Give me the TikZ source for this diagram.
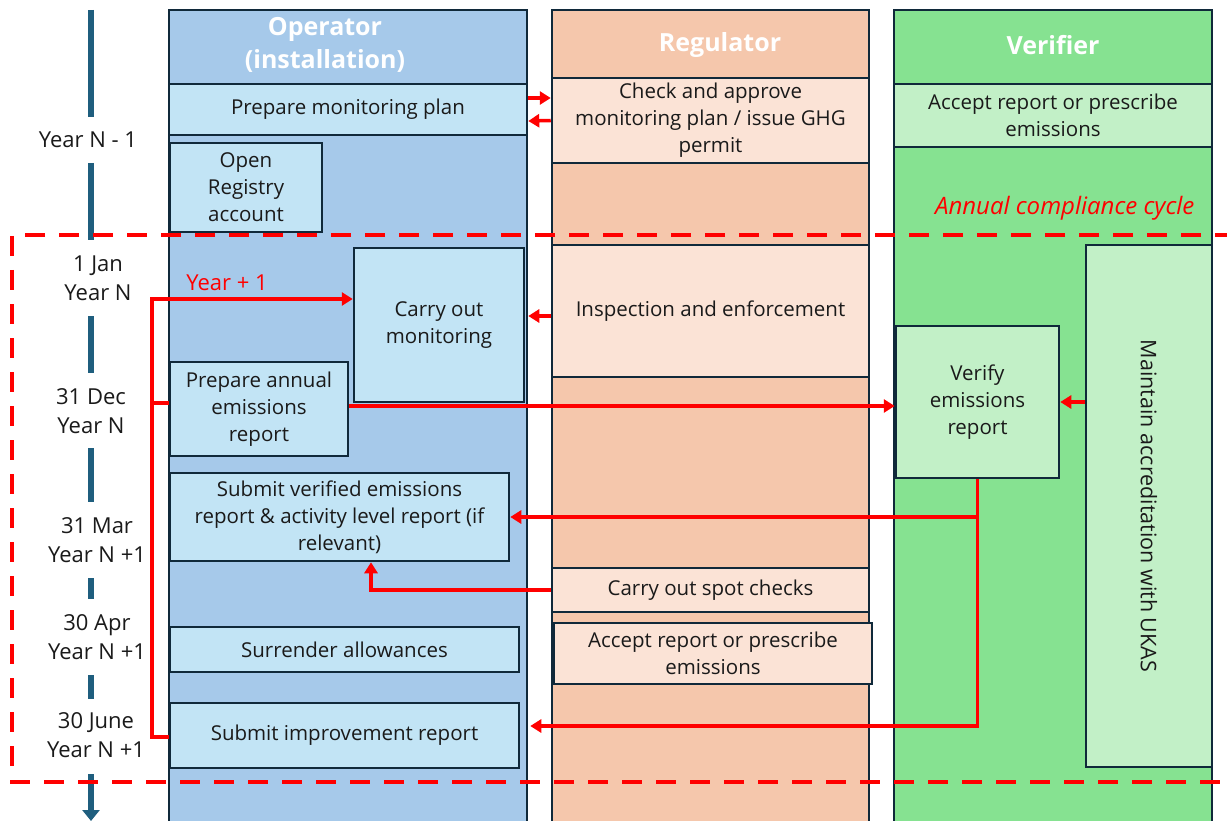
\documentclass[tikz,border=0pt]{standalone}
\usepackage{fontspec}
\setmainfont{Open Sans}
\usetikzlibrary{arrows.meta}
\definecolor{opcolc}{HTML}{A6C9EA}
\definecolor{opboxc}{HTML}{C2E4F5}
\definecolor{regcolc}{HTML}{F5C7AC}
\definecolor{regboxc}{HTML}{FBE3D6}
\definecolor{vercolc}{HTML}{86E291}
\definecolor{verboxc}{HTML}{C2F0C7}
\definecolor{bord}{HTML}{10293A}
\definecolor{tlc}{HTML}{1F5E7E}
\definecolor{redc}{HTML}{FF0000}
\definecolor{txt}{HTML}{1A1A1A}
\begin{document}
\begin{tikzpicture}[x=1pt,y=-1pt,
  lane/.style={draw=bord,line width=2.5pt,inner sep=0pt},
  bx/.style={draw=bord,line width=2.5pt,inner sep=0pt,align=center,text=txt,font=\fontsize{20.5}{27}\selectfont},
  obox/.style={bx,fill=opboxc},
  rbox/.style={bx,fill=regboxc},
  vbox/.style={bx,fill=verboxc},
  head/.style={text=white,align=center,font=\fontsize{25}{33}\selectfont\bfseries},
  datel/.style={align=center,text=txt,font=\fontsize{22}{29}\selectfont},
  tline/.style={draw=tlc,line width=6pt},
  rarr/.style={draw=redc,line width=3.5pt,-{Triangle[length=11pt,width=13pt]}},
  rline/.style={draw=redc,line width=3.5pt},
  dashbox/.style={draw=redc,line width=4pt,dash pattern=on 20pt off 14pt}
]
\useasboundingbox (0,0) rectangle (1227,821);
\fill[white] (0,0) rectangle (1227,821);

% lanes
\node[lane,fill=opcolc,minimum width=358pt,minimum height=830pt] (opl) at (348,425) {};
\node[lane,fill=regcolc,minimum width=317pt,minimum height=830pt] (regl) at (710.5,425) {};
\node[lane,fill=vercolc,minimum width=318pt,minimum height=830pt] (verl) at (1053,425) {};

\node[head] (oph) at (325,44.5) {Operator\\(installation)};
\node[head] (regh) at (720,45) {Regulator};
\node[head] (verh) at (1053,45) {Verifier};

% operator boxes
\node[obox,minimum width=358pt,minimum height=51pt] (pmp) at (348,109.5) {Prepare monitoring plan};
\node[obox,minimum width=152pt,minimum height=89pt] (ora) at (246,187.5) {Open\\Registry\\account};
\node[obox,minimum width=170pt,minimum height=154pt] (com) at (439,325) {Carry out\\monitoring};
\node[obox,minimum width=178pt,minimum height=94pt] (pae) at (259,409) {Prepare annual\\emissions\\report};
\node[obox,minimum width=339pt,minimum height=88pt] (svr) at (339.5,517) {Submit verified emissions\\report \& activity level report (if\\relevant)};
\node[obox,minimum width=349pt,minimum height=45pt] (sa) at (344.5,649.5) {Surrender allowances};
\node[obox,minimum width=349pt,minimum height=65pt] (sir) at (344.5,735.5) {Submit improvement report};

% regulator boxes
\node[rbox,minimum width=317pt,minimum height=85pt] (cap) at (710.5,120.5) {Check and approve\\monitoring plan / issue GHG\\permit};
\node[rbox,minimum width=317pt,minimum height=132pt] (ie) at (710.5,311) {Inspection and enforcement};
\node[rbox,minimum width=317pt,minimum height=44pt] (sc) at (710.5,590) {Carry out spot checks};
\node[rbox,minimum width=318pt,minimum height=61pt] (arr) at (713,653.5) {Accept report or prescribe\\emissions};

% verifier boxes
\node[vbox,minimum width=318pt,minimum height=63pt] (va) at (1053,115.5) {Accept report or prescribe\\emissions};
\node[vbox,minimum width=163pt,minimum height=152pt] (ver) at (977.5,402) {Verify\\emissions\\report};
\node[vbox,minimum width=126pt,minimum height=522pt] (mac) at (1149,506) {};
\node[rotate=-90,text=txt,font=\fontsize{21.5}{27}\selectfont] (macl) at (mac.center) {Maintain accreditation with UKAS};

% timeline
\node[datel] (d0) at (88,140) {Year N - 1};
\node[datel] (d1) at (98,278) {1 Jan\\Year N};
\node[datel] (d2) at (91,411) {31 Dec\\Year N};
\node[datel] (d3) at (97,540) {31 Mar\\Year N +1};
\node[datel] (d4) at (97,637) {30 Apr\\Year N +1};
\node[datel] (d5) at (96,735) {30 June\\Year N +1};
\coordinate (t0) at (91,10);  \coordinate (t1) at (91,117);
\coordinate (t2) at (91,163); \coordinate (t3) at (91,240);
\coordinate (t4) at (91,316); \coordinate (t5) at (91,373);
\coordinate (t6) at (91,448); \coordinate (t7) at (91,502);
\coordinate (t8) at (91,578); \coordinate (t9) at (91,599);
\coordinate (t10) at (91,675); \coordinate (t11) at (91,699);
\coordinate (t12) at (91,774); \coordinate (t13) at (91,821);
\draw[tline] (t0) -- (t1);
\draw[tline] (t2) -- (t3);
\draw[tline] (t4) -- (t5);
\draw[tline] (t6) -- (t7);
\draw[tline] (t8) -- (t9);
\draw[tline] (t10) -- (t11);
\draw[tline,-{Triangle[length=11pt,width=17pt]}] (t12) -- (t13);

% annual cycle box
\coordinate (c0) at (1235,235);
\coordinate (c1) at (12,235);
\coordinate (c2) at (12,782);
\coordinate (c3) at (1235,782);
\draw[dashbox] (c0) -- (c1) -- (c2) -- (c3);
\node[text=redc,font=\fontsize{24}{28}\selectfont\itshape,anchor=east] (acc) at (1198,208) {Annual compliance cycle};

% red connectors
\draw[rarr] ([yshift=11.5pt]pmp.east) -- ([yshift=22.5pt]cap.west);
\draw[rarr] (cap.west) -- ([yshift=-11.5pt]pmp.east);
\draw[rarr] ([yshift=-5pt]ie.west) -- ([yshift=9pt,xshift=3pt]com.east);
\draw[rarr] ([yshift=3pt]pae.east) -- ([yshift=-4pt]ver.west);
\draw[rarr] (mac.west |- ver.east) -- (ver.east);
\draw[rarr] (ver.south) |- (svr.east);
\draw[rarr] (ver.south) |- ([xshift=10pt,yshift=9.5pt]sir.east);
\draw[rarr] (sc.west) -| ([xshift=31.5pt]svr.south);
\draw[rarr] ([yshift=-1.5pt]sir.west) -- ++(-17,0) |- ([yshift=26pt]com.west);
\draw[rline] ([yshift=6pt]pae.west) -- ++(-17,0);
\node[text=redc,font=\fontsize{22}{26}\selectfont] (yp1) at (227,283) {Year + 1};
\end{tikzpicture}
\end{document}
